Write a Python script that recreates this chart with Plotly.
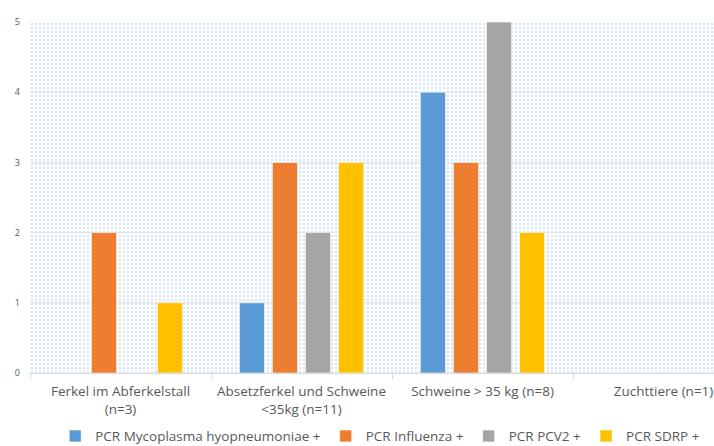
import plotly.graph_objects as go

# Animal groups (x categories)
groups = [
    "Ferkel im Abferkelstall<br>(n=3)",
    "Absetzferkel und Schweine<br><35kg (n=11)",
    "Schweine > 35 kg (n=8)",
    "Zuchttiere (n=1)",
]

# Number of PCR-positive samples per pathogen
series_names = [
    "PCR Mycoplasma hyopneumoniae +",
    "PCR Influenza +",
    "PCR PCV2 +",
    "PCR SDRP +",
]
mycoplasma = [0, 1, 4, 0]
influenza = [2, 3, 3, 0]
pcv2 = [0, 2, 5, 0]
sdrp = [1, 3, 2, 0]
series_values = [mycoplasma, influenza, pcv2, sdrp]
colors = ["#5B9BD5", "#ED7D31", "#A5A5A5", "#FFC000"]

y_ticks = [0, 1, 2, 3, 4, 5]

font_family = "Open Sans, Noto Sans, sans-serif"
text_color = "#595959"

fig = go.Figure()

# Dotted backdrop of the plotting area (drawn on hidden base axes)
fig.add_trace(go.Scatter(
    x=[0, 1, 1, 0, 0], y=[0, 0, 1, 1, 0],
    mode="lines", line=dict(width=0),
    fill="toself", fillcolor="rgba(0,0,0,0)",
    fillpattern=dict(shape=".", fgcolor="#D5E5F5", bgcolor="rgba(0,0,0,0)",
                     size=4, solidity=0.3, fillmode="replace"),
    hoverinfo="skip", showlegend=False,
    xaxis="x", yaxis="y",
))

for name, vals, col in zip(series_names, series_values, colors):
    fig.add_trace(go.Bar(
        x=groups, y=vals, name=name,
        marker=dict(color=col, line=dict(color="rgba(255,255,255,0.6)", width=1)),
        xaxis="x2", yaxis="y2",
    ))

fig.update_layout(
    width=714, height=446,
    margin=dict(l=30, r=0, t=22, b=73, autoexpand=False),
    paper_bgcolor="white", plot_bgcolor="white",
    font=dict(family=font_family, color=text_color, size=12),
    barmode="group", bargap=0.27, bargroupgap=0.24,
    xaxis=dict(range=[0, 1], visible=False, fixedrange=True),
    yaxis=dict(range=[0, 1], visible=False, fixedrange=True),
    xaxis2=dict(
        overlaying="x", side="bottom", type="category",
        range=[-0.5, 3.279], automargin=False, tickangle=0,
        showgrid=False, showline=True, linecolor="#D9D9D9", linewidth=1,
        ticks="outside", tickson="boundaries", ticklen=5, tickcolor="#D9D9D9",
        tickfont=dict(size=13.5, color=text_color),
        ticklabelstandoff=6,
    ),
    yaxis2=dict(
        overlaying="y", side="left", automargin=False,
        range=[0, 5], tickvals=y_ticks,
        showgrid=True, gridcolor="#E4E4E4", gridwidth=1,
        zeroline=False, showline=False,
        tickfont=dict(size=9, color=text_color),
        ticklabelstandoff=9,
    ),
    legend=dict(
        orientation="h", x=0.512, xanchor="center", y=-0.18, yanchor="middle",
        font=dict(size=13.5, color=text_color),
        itemwidth=30, tracegroupgap=0,
    ),
)

fig.write_html("out.html")
